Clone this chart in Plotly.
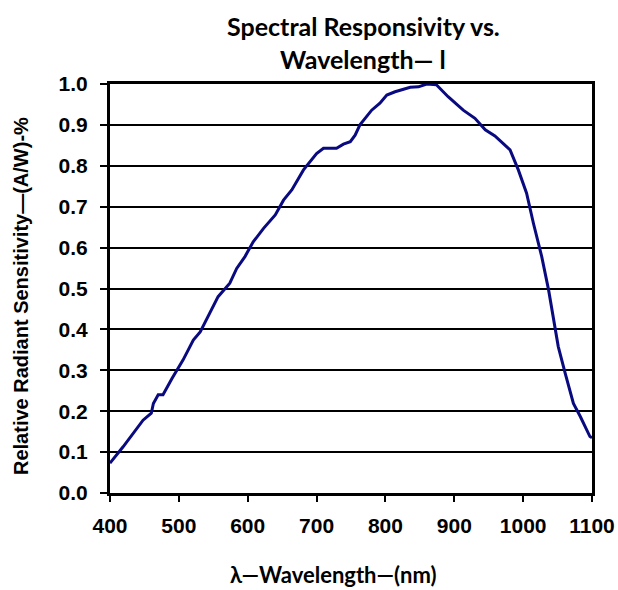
import plotly.graph_objects as go

wavelength = [400, 419, 448, 460, 463, 470, 477, 490, 506, 521, 531, 550, 557, 574, 584, 596, 608,
              623, 640, 652, 664, 681, 700, 710, 729, 739, 749, 756, 763, 780, 792, 802, 814,
              836, 848, 860, 874, 891, 913, 930, 945, 959, 981, 993, 1005, 1015, 1027, 1037,
              1044, 1051, 1061, 1073, 1083, 1097, 1100]
responsivity = [0.073, 0.113, 0.178, 0.195, 0.219, 0.240, 0.240, 0.280, 0.325, 0.374, 0.394, 0.455,
                0.480, 0.513, 0.549, 0.578, 0.614, 0.647, 0.680, 0.716, 0.741, 0.790, 0.830,
                0.843, 0.843, 0.853, 0.859, 0.875, 0.900, 0.936, 0.953, 0.973, 0.981, 0.992,
                0.993, 1.000, 0.998, 0.969, 0.936, 0.916, 0.888, 0.873, 0.839, 0.790, 0.733,
                0.659, 0.578, 0.496, 0.423, 0.358, 0.293, 0.219, 0.187, 0.138, 0.135]

x_ticks = [400, 500, 600, 700, 800, 900, 1000, 1100]
y_ticks = [0.0, 0.1, 0.2, 0.3, 0.4, 0.5, 0.6, 0.7, 0.8, 0.9, 1.0]

title_lines = ["Spectral Responsivity vs.", "Wavelength— l"]
x_title = "λ—Wavelength—(nm)"
y_title = "Relative Radiant Sensitivity—(A/W)-%"

# plot area in window pixels (body margin removed below)
PL, PR, PT, PB = 110, 592, 84, 493
W, H = 618, 590
PW, PH = PR - PL, PB - PT


def px(x):
    return (x - PL) / PW


def py(y):
    return (PB - y) / PH


fig = go.Figure()
fig.add_trace(go.Scatter(x=wavelength, y=responsivity, mode="lines",
                         line=dict(color="#0a0a80", width=3), showlegend=False))

tick_font = dict(family="Liberation Sans, Arial", size=21, color="black", weight="bold")

fig.update_layout(
    width=W, height=H, autosize=False,
    margin=dict(l=PL, r=W - PR, t=PT, b=H - PB, pad=0, autoexpand=False),
    paper_bgcolor="white", plot_bgcolor="white",
    xaxis=dict(range=[400, 1100], tickvals=x_ticks, ticktext=[str(v) for v in x_ticks],
               showgrid=False, zeroline=False, showline=True, mirror=True, automargin=False,
               linecolor="black", linewidth=3, ticks="outside", ticklen=6, tickwidth=1.5,
               tickcolor="black", tickfont=tick_font, ticklabelstandoff=6,
               ticklabeloverflow="allow"),
    yaxis=dict(range=[0, 1.0], tickvals=y_ticks, ticktext=[f"{v:.1f}" for v in y_ticks],
               showgrid=True, gridcolor="black", gridwidth=2, zeroline=False, automargin=False,
               showline=True, mirror=True, linecolor="black", linewidth=3,
               ticks="outside", ticklen=7, tickwidth=1.5, tickcolor="black",
               tickfont=tick_font, ticklabelstandoff=8),
)

title_font = dict(family="Lato, Open Sans", size=25, color="black")
for line, yc in zip(title_lines, [26, 59]):
    fig.add_annotation(text="<b>" + line + "</b>", xref="paper", yref="paper",
                       x=px(363), y=py(yc), xanchor="center", yanchor="middle",
                       showarrow=False, font=title_font)
fig.add_annotation(text="<b>" + x_title + "</b>", xref="paper", yref="paper",
                   x=px(333), y=py(574), xanchor="center", yanchor="middle",
                   showarrow=False, font=dict(family="Lato, Open Sans", size=22, color="black"))
fig.add_annotation(text="<b>" + y_title + "</b>", xref="paper", yref="paper",
                   x=px(21), y=py(296), xanchor="center", yanchor="middle",
                   textangle=-90, showarrow=False,
                   font=dict(family="Liberation Sans, Arial", size=20, color="black"))

fig.write_html("out.html",
               config={"displayModeBar": False, "responsive": False},
               post_script="document.body.style.margin='0';document.body.style.overflow='hidden';")
